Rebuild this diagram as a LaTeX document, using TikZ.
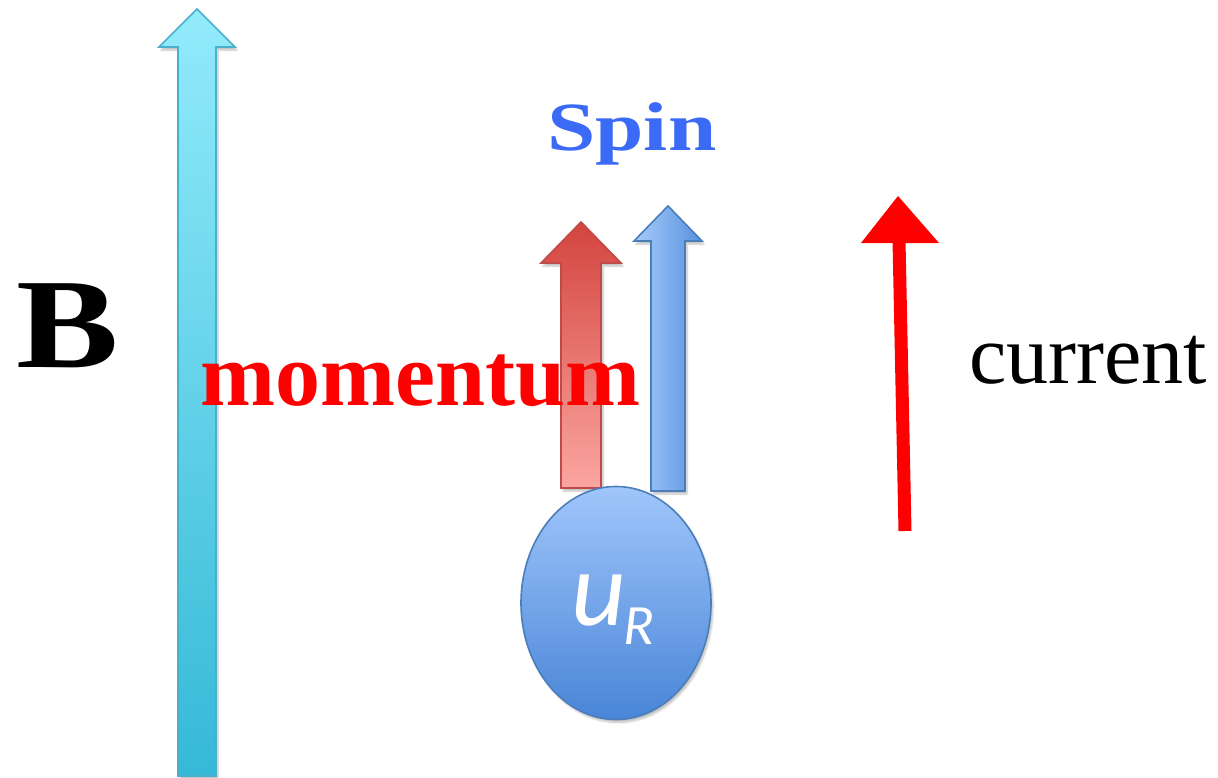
\documentclass[tikz,border=0pt]{standalone}
\usepackage{fontspec}
\setmainfont{Liberation Serif}
\newfontfamily\carl{Carlito}
\usetikzlibrary{shadows.blur,shapes.geometric}
\definecolor{cyanTop}{HTML}{92EBFB}
\definecolor{cyanBot}{HTML}{35B9D7}
\definecolor{cyanLine}{HTML}{4AAFCB}
\definecolor{redTop}{HTML}{D4443E}
\definecolor{redBot}{HTML}{FBA6A1}
\definecolor{redLine}{HTML}{BE4B48}
\definecolor{blueL}{HTML}{A6CBFB}
\definecolor{blueR}{HTML}{5891DD}
\definecolor{blueLine}{HTML}{4A7EBB}
\definecolor{ellTop}{HTML}{A0C6FB}
\definecolor{ellBot}{HTML}{4985D7}
\definecolor{spinBlue}{HTML}{3A6AF6}
\tikzset{
  blockarrow/.style={line width=1.6pt, line join=miter, blur shadow={shadow xshift=2pt, shadow yshift=-3pt, shadow blur steps=6, shadow opacity=25}},
  txt/.style={inner sep=0pt, anchor=base west},
}
\begin{document}
\begin{tikzpicture}[x=1pt,y=-1pt]
\useasboundingbox (0,0) rectangle (1218,778);
% B field arrow
\path[blockarrow, draw=cyanLine, top color=cyanTop, bottom color=cyanBot]
  (178,776) -- (178,47) -- (159,47) -- (197,9) -- (235,47) -- (216,47) -- (216,776) -- cycle;
\node[txt, font=\fontsize{128}{130}\selectfont\bfseries] (B) at (16,367) {\scalebox{1.2}[1]{B}};
% momentum arrow
\path[blockarrow, draw=redLine, top color=redTop, bottom color=redBot]
  (561,488) -- (561,263) -- (541,263) -- (581,222) -- (621,263) -- (601,263) -- (601,488) -- cycle;
% spin arrow
\path[blockarrow, draw=blueLine, left color=blueL, right color=blueR]
  (651,491) -- (651,241) -- (634,241) -- (668,206) -- (702,241) -- (685,241) -- (685,491) -- cycle;
\node[txt, text=spinBlue, font=\fontsize{69}{72}\selectfont\bfseries] (spin) at (547,151) {\scalebox{1.26}[1]{Spin}};
\node[txt, text=red, font=\fontsize{90}{92}\selectfont\bfseries] (mom) at (200,405) {momentum};
% current arrow
\coordinate (cbot) at (905,531);
\coordinate (ctop) at (899,240);
\draw[red, line width=13pt] (cbot) -- (ctop);
\fill[red] (861,243) -- (898,196) -- (939,243) -- cycle;
\node[txt, font=\fontsize{84}{86}\selectfont] (cur) at (969,383) {current};
% particle
\node[ellipse, draw=blueLine, line width=1.6pt, top color=ellTop, bottom color=ellBot,
      minimum width=190pt, minimum height=233pt, inner sep=0pt,
      blur shadow={shadow xshift=2pt, shadow yshift=-3pt, shadow blur steps=6, shadow opacity=25}] (uR) at (616,603) {};
\node[txt, text=white, font=\fontsize{106}{108}\selectfont\carl\itshape] (u) at (571,625) {u};
\node[txt, text=white, font=\fontsize{57}{59}\selectfont\carl\itshape] (R) at (623,644) {R};
\end{tikzpicture}
\end{document}
